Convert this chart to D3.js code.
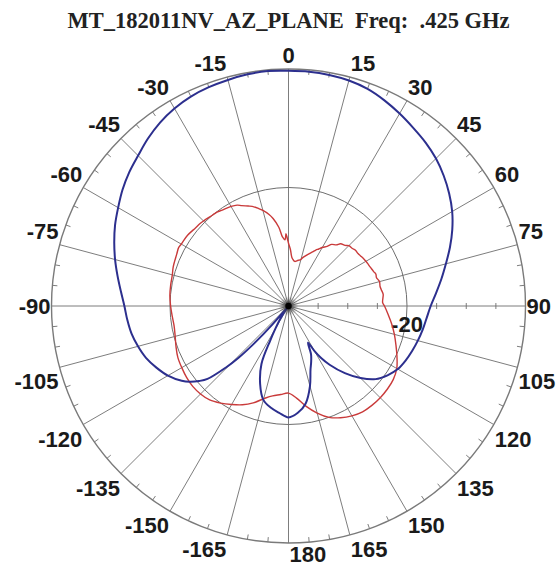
<!DOCTYPE html>
<html>
<head>
<meta charset="utf-8">
<script src="https://cdn.jsdelivr.net/npm/d3@7"></script>
<style>
  body { margin: 0; background: #fff; }
  svg { display: block; }
</style>
</head>
<body>
<svg id="chart" width="558" height="568"></svg>
<script>
// ---- data ----
const titleText = "MT_182011NV_AZ_PLANE  Freq:  .425 GHz";
const angleTicks = [0, 15, 30, 45, 60, 75, 90, 105, 120, 135, 150, 165, 180,
                    -165, -150, -135, -120, -105, -90, -75, -60, -45, -30, -15];
const ringLevels = [-20];
const ringLabel = "-20";
const dbFloor = -40;
const dbTop = 0;
const axisTickLevels = [-35, -30, -25, -15, -10, -5];

// blue trace: azimuth (deg, clockwise from 0) and level (dB)
const blueAngles = [-180, -175, -170, -165, -160, -155, -152, -150, -147, -144, -141, -139,
  -137.5, -136, -134.5, -132, -130, -127.5, -125, -120, -115, -110, -105, -100, -95, -90,
  -85, -80, -75, -70, -65, -60, -55, -50, -45, -40, -35, -30, -25, -20, -15, -10, -5,
  0, 5, 10, 15, 20, 25, 30, 35, 40, 45, 50, 55, 60, 65, 70, 75, 80, 85, 90, 95, 100,
  105, 110, 115, 120, 125, 130, 135, 140, 145, 148, 150, 152, 155, 158, 161, 165, 170, 175];
const blueDb = [-21.2, -21.9, -22.6, -23.6, -26.0, -29.2, -33.5, -35.5, -37.5, -39.5, -40, -36,
  -31.5, -27.8, -25.2, -21.6, -20.3, -19.0, -18.0, -16.5, -15.4, -14.4, -13.7, -13.1, -12.7, -12.3,
  -11.6, -10.7, -9.7, -8.7, -7.7, -6.8, -5.8, -4.9, -4.1, -3.1, -2.2, -1.5, -1.0, -0.7, -0.5, -0.3, -0.2,
  -0.3, -0.3, -0.4, -0.6, -1.0, -1.7, -2.5, -3.3, -4.0, -4.8, -5.8, -6.9, -8.1, -9.5, -11.0, -12.5, -13.8, -15.0, -16.0, -16.6, -17.0,
  -17.4, -17.8, -18.2, -18.7, -19.6, -20.8, -22.8, -25.2, -27.9, -29.7, -31.2, -33.0, -31.0, -29.8, -28.6, -26.0, -23.3, -21.9];

// red trace
const redAngles = [-180, -175, -170, -166, -160, -155, -150, -145, -140, -135, -130, -125, -120,
  -115, -110, -105, -100, -95, -90, -85, -80, -75, -72, -70, -65, -62, -60, -55, -50, -47, -45, -40,
  -37, -35, -30, -27, -25, -22, -20, -17, -15, -12, -10, -7, -5, -3, -2, -1, 0, 2, 4, 6, 8, 10,
  12, 14, 16, 18, 20, 22, 24, 26, 28, 30, 33, 35, 38, 40, 43, 45, 48, 50, 53, 55, 58, 60, 63, 65,
  68, 70, 72, 75, 78, 80, 83, 85, 88, 90, 95, 100, 105, 110, 115, 120, 125, 130, 135, 140, 145,
  150, 155, 160, 165, 170, 175];
const redDb = [-25.3, -25.0, -24.6, -24.0, -22.6, -21.6, -20.8, -20.0, -19.3, -19.0, -18.9, -19.0, -19.2,
  -19.4, -19.8, -20.2, -20.4, -20.3, -20.1, -19.9, -19.8, -19.7, -19.5, -19.4, -19.2, -19.0, -19.1, -19.2, -19.5, -19.6, -19.7, -20.0,
  -20.1, -20.3, -20.6, -20.9, -21.3, -21.8, -22.1, -22.8, -23.3, -24.2, -25.0, -26.6, -28.3, -28.8, -27.8, -28.6, -29.4, -30.5, -31.8, -32.2, -32.4, -32.3,
  -32.1, -32.0, -31.6, -31.2, -30.8, -30.4, -30.0, -29.5, -29.1, -28.6, -28.0, -27.3, -26.9, -26.3, -26.0, -25.6, -25.5, -25.3, -25.3, -25.2, -25.0, -24.9, -24.8, -24.7,
  -24.5, -24.3, -24.4, -24.1, -24.2, -24.1, -23.9, -24.0, -24.1, -23.8, -23.1, -22.3, -21.5, -20.7, -19.8, -18.9, -18.4, -18.2, -18.1, -18.1, -18.2,
  -18.6, -19.2, -20.0, -21.3, -22.8, -24.4];

// ---- layout ----
const svg = d3.select("#chart");
const cx = 288.5, cy = 306, R = 237;
const g = svg.append("g").attr("transform", `translate(${cx},${cy})`);
const rScale = d3.scaleLinear().domain([dbFloor, dbTop]).range([0, R]).clamp(true);
const toRad = d => d * Math.PI / 180;
const gridColor = "#6e6e6e";

// title
svg.append("text")
  .attr("x", cx).attr("y", 28)
  .attr("text-anchor", "middle")
  .style("white-space", "pre")
  .attr("font-family", "'Liberation Serif', 'Times New Roman', serif")
  .attr("font-weight", "bold")
  .attr("font-size", 22.5)
  .attr("fill", "#222")
  .text(titleText);

// spokes every 15 degrees
g.selectAll("line.spoke").data(angleTicks).join("line")
  .attr("class", "spoke")
  .attr("x1", 0).attr("y1", 0)
  .attr("x2", d => R * Math.sin(toRad(d)))
  .attr("y2", d => -R * Math.cos(toRad(d)))
  .attr("stroke", gridColor).attr("stroke-width", 0.9);

// minor ticks every 5 degrees on the outer ring
const minor = d3.range(0, 360, 5).filter(a => a % 15 !== 0);
g.selectAll("line.minor").data(minor).join("line")
  .attr("class", "minor")
  .attr("x1", d => R * Math.sin(toRad(d)))
  .attr("y1", d => -R * Math.cos(toRad(d)))
  .attr("x2", d => (R - 5) * Math.sin(toRad(d)))
  .attr("y2", d => -(R - 5) * Math.cos(toRad(d)))
  .attr("stroke", gridColor).attr("stroke-width", 0.9);

// rings
g.append("circle").attr("r", R).attr("fill", "none")
  .attr("stroke", "#7a7a7a").attr("stroke-width", 1.4);
g.selectAll("circle.ring").data(ringLevels).join("circle")
  .attr("class", "ring")
  .attr("r", d => rScale(d)).attr("fill", "none")
  .attr("stroke", gridColor).attr("stroke-width", 1);

// level ticks along the 90 degree axis
g.selectAll("line.lvl").data(axisTickLevels).join("line")
  .attr("class", "lvl")
  .attr("x1", d => rScale(d)).attr("x2", d => rScale(d))
  .attr("y1", -3).attr("y2", 3)
  .attr("stroke", gridColor).attr("stroke-width", 0.9);

// angle labels
const labelFont = "'Liberation Sans', Arial, sans-serif";
g.selectAll("text.ang").data(angleTicks).join("text")
  .attr("class", "ang")
  .attr("font-family", labelFont)
  .attr("font-weight", "bold")
  .attr("font-size", 22)
  .attr("fill", "#1a1a1a")
  .attr("text-anchor", d => d === 0 ? "middle" : (d > 0 ? "start" : "end"))
  .attr("x", d => {
    const x = R * Math.sin(toRad(d));
    return d === 0 ? x : (d > 0 ? x + 1 : x - 1);
  })
  .attr("y", d => {
    const y = -R * Math.cos(toRad(d));
    const a = Math.abs(d);
    if (a < 90) return y - 6;
    if (a === 90) return y + 8;
    if (a === 180) return y + 19;
    return y + 22;
  })
  .text(d => d);

// ring label
g.append("text")
  .attr("font-family", labelFont)
  .attr("font-weight", "bold")
  .attr("font-size", 22)
  .attr("fill", "#1a1a1a")
  .attr("text-anchor", "middle")
  .attr("x", rScale(ringLevels[0]))
  .attr("y", 26)
  .text(ringLabel);

// traces
const radial = d3.lineRadial()
  .angle(d => toRad(d[0]))
  .radius(d => rScale(d[1]))
  .curve(d3.curveCatmullRomClosed.alpha(0.5));

const redPts = redAngles.map((a, i) => [a, redDb[i]]);
const bluePts = blueAngles.map((a, i) => [a, blueDb[i]]);

g.append("path").attr("d", radial(redPts))
  .attr("fill", "none").attr("stroke", "#c93a3a").attr("stroke-width", 1.4)
  .attr("stroke-linejoin", "round");

g.append("path").attr("d", radial(bluePts))
  .attr("fill", "none").attr("stroke", "#2c2f8e").attr("stroke-width", 2)
  .attr("stroke-linejoin", "round");

// hub
const defs = svg.append("defs");
const grad = defs.append("radialGradient").attr("id", "hub");
grad.append("stop").attr("offset", "0%").attr("stop-color", "#000").attr("stop-opacity", 0.9);
grad.append("stop").attr("offset", "100%").attr("stop-color", "#666").attr("stop-opacity", 0);
g.append("circle").attr("r", 10).attr("fill", "url(#hub)");
g.append("circle").attr("r", 3.2).attr("fill", "#000");
</script>
</body>
</html>
